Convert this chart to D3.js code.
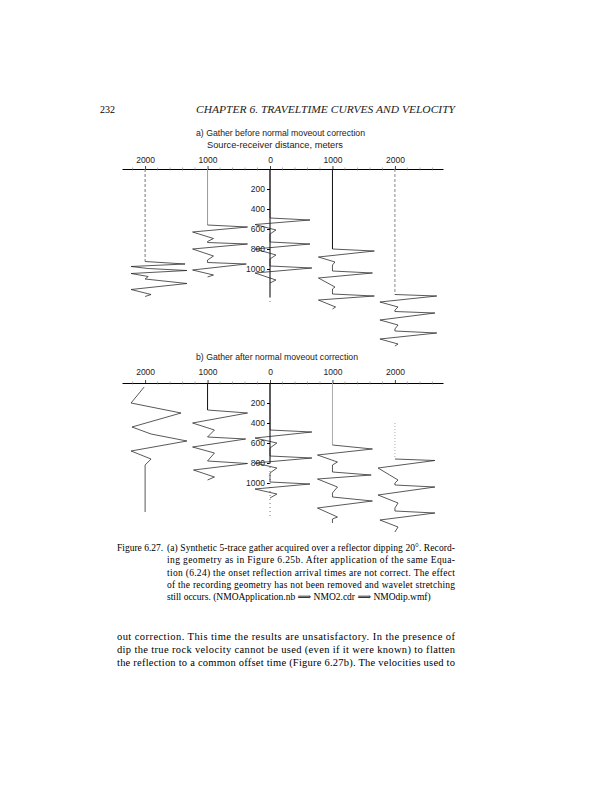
<!DOCTYPE html>
<html>
<head>
<meta charset="utf-8">
<script src="https://cdn.jsdelivr.net/npm/d3@7"></script>
<style>
  body { margin: 0; background: #fff; }
  svg { display: block; }
</style>
</head>
<body>
<div id="page"></div>
<script>
// trace positions (source-receiver distance, m) and axis ticks
const traceOffsets = [-2000, -1000, 0, 1000, 2000];
const distanceTicks = [-2000, -1000, 0, 1000, 2000];
const timeTicks = [200, 400, 600, 800, 1000];

// wiggle vertices: [time ms, trace deflection m]
// a) before NMO correction
const gatherA_m2000 = [[0,0],[925,0],[950,640],[975,-225],[995,50],[1015,670],[1045,-225],[1075,50],[1100,0],[1145,670],[1205,-225],[1255,95],[1275,0]];
const gatherA_m1000 = [[0,0],[560,0],[580,640],[630,-240],[695,95],[725,0],[735,0],[750,640],[800,-240],[870,95],[910,0],[935,0],[950,620],[1010,-240],[1060,95],[1080,0]];
const gatherA_0 = [[0,0],[490,0],[510,640],[555,-240],[610,95],[650,0],[730,0],[750,640],[800,-240],[860,95],[900,0],[970,0],[990,670],[1040,-240],[1110,95],[1140,0]];
const gatherA_p1000 = [[0,0],[800,0],[820,670],[880,-225],[930,40],[960,0],[1020,0],[1040,640],[1090,-225],[1180,40],[1200,0],[1250,0],[1270,670],[1310,-225],[1380,50],[1400,0]];
const gatherA_p2000 = [[0,0],[1255,0],[1270,670],[1330,-240],[1380,50],[1410,0],[1425,0],[1440,640],[1510,-240],[1560,50],[1600,0],[1620,0],[1640,670],[1700,-240],[1750,50],[1770,0]];

// b) after NMO correction
const gatherB_m2000 = [[40,-15],[200,-225],[300,575],[440,-210],[510,95],[580,670],[680,-225],[760,95],[820,0],[1290,0]];
const gatherB_m1000 = [[0,0],[270,0],[300,640],[400,-240],[470,110],[540,0],[560,610],[640,-240],[700,110],[780,0],[805,640],[870,-225],[940,110],[970,0]];
const gatherB_0 = [[0,0],[470,0],[490,670],[550,-240],[600,110],[650,0],[730,0],[750,670],[800,-240],[850,110],[900,0],[990,0],[1010,640],[1060,-240],[1110,110],[1150,0]];
const gatherB_p1000 = [[0,0],[620,0],[660,640],[720,-240],[790,80],[820,0],[890,0],[920,620],[960,-240],[1040,80],[1100,0],[1140,0],[1180,640],[1250,-240],[1340,80],[1360,0],[1400,0]];
const gatherB_p2000 = [[400,0],[760,0],[775,640],[850,-270],[970,50],[1000,0],[1020,0],[1040,640],[1120,-270],[1200,50],[1250,0],[1280,0],[1300,640],[1370,-240],[1440,50],[1490,0]];

const gatherA = [gatherA_m2000, gatherA_m1000, gatherA_0, gatherA_p1000, gatherA_p2000];
const gatherB = [gatherB_m2000, gatherB_m1000, gatherB_0, gatherB_p1000, gatherB_p2000];

// page text
const pageNumber = "232";
const runningHead = "CHAPTER 6.  TRAVELTIME CURVES AND VELOCITY";
const titleA = "a) Gather before normal moveout correction";
const xAxisTitle = "Source-receiver distance, meters";
const titleB = "b) Gather after normal moveout correction";
const captionLabel = "Figure 6.27.";
const captionLines = [
  "(a) Synthetic 5-trace gather acquired over a reflector dipping 20°. Record-",
  "ing geometry as in Figure 6.25b. After application of the same Equa-",
  "tion (6.24) the onset reflection arrival times are not correct. The effect",
  "of the recording geometry has not been removed and wavelet stretching",
  "still occurs. (NMOApplication.nb \u27F9 NMO2.cdr \u27F9 NMOdip.wmf)"
];
const bodyLines = [
  "out correction.  This time the results are unsatisfactory.  In the presence of",
  "dip the true rock velocity cannot be used (even if it were known) to flatten",
  "the reflection to a common offset time (Figure 6.27b).  The velocities used to"
];

const width = 612, height = 800;
const svg = d3.select("#page").append("svg")
  .attr("width", width)
  .attr("height", height);

svg.append("rect").attr("width", width).attr("height", height).attr("fill", "#fff");

const serif = "'Liberation Serif', 'DejaVu Serif', serif";
const sans = "'Liberation Sans', Arial, sans-serif";

// running head
svg.append("text")
  .attr("x", 100).attr("y", 113)
  .style("font-family", serif).style("font-size", "10px")
  .text(pageNumber);
svg.append("text")
  .attr("x", 196).attr("y", 113)
  .attr("textLength", 259).attr("lengthAdjust", "spacingAndGlyphs")
  .style("font-family", serif).style("font-size", "9.5px").style("font-style", "italic")
  .attr("fill", "#222")
  .text(runningHead);

// how the quiet (pre-onset) part of each trace looks in the scan
const quietStyleA = [
  { stroke: "#777", dash: "3,2" }, { stroke: "#999", dash: null }, null,
  { stroke: "#111", dash: null }, { stroke: "#888", dash: "3,2" }
];
const quietStyleB = [
  null, { stroke: "#111", dash: null }, null,
  { stroke: "#aaa", dash: null }, { stroke: "#aaa", dash: "1,2" }
];

function drawGather(cfg) {
  const x = d3.scaleLinear().domain([-2370, 2770]).range([122, 443]);
  const y = d3.scaleLinear().domain([0, 1000]).range([cfg.top, cfg.top + 100]);
  const g = svg.append("g");

  // title(s)
  cfg.titles.forEach(t => {
    g.append("text")
      .attr("x", t.x).attr("y", t.y)
      .attr("textLength", t.len).attr("lengthAdjust", "spacingAndGlyphs")
      .style("font-family", sans).style("font-size", "8.5px").attr("fill", "#222")
      .text(t.text);
  });

  // horizontal distance axis (labels above)
  const xAxis = g.append("g")
    .attr("transform", `translate(0,${cfg.top})`)
    .call(d3.axisTop(x).tickValues(distanceTicks).tickSize(3).tickPadding(cfg.labelGap)
      .tickSizeOuter(0).tickFormat(d => String(Math.abs(d))));
  xAxis.select(".domain").attr("stroke", "#000");
  xAxis.selectAll(".tick line").attr("stroke", "#444");
  xAxis.selectAll("text").style("font-family", sans).style("font-size", "8.5px").attr("fill", "#222");

  // minor ticks
  g.append("g")
    .selectAll("line")
    .data(x.ticks(25).filter(d => d % 1000 !== 0))
    .join("line")
    .attr("x1", d => x(d)).attr("x2", d => x(d))
    .attr("y1", cfg.top - 1.5).attr("y2", cfg.top + 1.5)
    .attr("stroke", "#777").attr("stroke-width", 0.6);

  // vertical time axis at zero offset
  const yAxis = g.append("g")
    .attr("transform", `translate(${x(0)},0)`)
    .call(d3.axisLeft(y).tickValues(timeTicks).tickSize(3).tickPadding(2).tickSizeOuter(0)
      .tickFormat(d => String(d)));
  yAxis.select(".domain").remove();
  yAxis.selectAll("text").style("font-family", sans).style("font-size", "8.5px").attr("fill", "#222");
  yAxis.selectAll("line").attr("stroke", "#000");

  g.append("line")
    .attr("x1", x(0)).attr("x2", x(0))
    .attr("y1", y(0)).attr("y2", y(cfg.axisSolidEnd))
    .attr("stroke", "#000").attr("stroke-width", 1);
  g.append("line")
    .attr("x1", x(0)).attr("x2", x(0))
    .attr("y1", y(cfg.axisSolidEnd)).attr("y2", y(cfg.axisEnd))
    .attr("stroke", "#777").attr("stroke-width", 1)
    .attr("stroke-dasharray", "1,3");

  // wiggle traces
  cfg.traces.forEach((trace, i) => {
    const off = traceOffsets[i];
    const line = d3.line()
      .x(d => x(off + d[1]))
      .y(d => y(d[0]));
    const qs = cfg.quiet[i];
    let pts = trace;
    if (qs && trace[1][1] === 0) {
      // quiet baseline drawn on its own, lighter
      g.append("path")
        .datum(trace.slice(0, 2))
        .attr("fill", "none")
        .attr("stroke", qs.stroke)
        .attr("stroke-width", 1)
        .attr("stroke-dasharray", qs.dash)
        .attr("d", line);
      pts = trace.slice(1);
    }
    g.append("path")
      .datum(pts)
      .attr("fill", "none")
      .attr("stroke", "#222")
      .attr("stroke-width", 0.75)
      .attr("stroke-linejoin", "round")
      .attr("d", line);
  });
}

drawGather({
  top: 169,
  labelGap: 3,
  axisSolidEnd: 1280,
  axisEnd: 1360,
  traces: gatherA,
  quiet: quietStyleA,
  titles: [
    { text: titleA, x: 196, y: 136, len: 169 },
    { text: xAxisTitle, x: 207, y: 148, len: 136 }
  ]
});

drawGather({
  top: 383,
  labelGap: 5,
  axisSolidEnd: 800,
  axisEnd: 1340,
  traces: gatherB,
  quiet: quietStyleB,
  titles: [
    { text: titleB, x: 196, y: 360, len: 162 }
  ]
});

// caption
svg.append("text")
  .attr("x", 117).attr("y", 551)
  .style("font-family", serif).style("font-size", "9.5px")
  .text(captionLabel);
captionLines.forEach((t, i) => {
  const last = i === captionLines.length - 1;
  const txt = svg.append("text")
    .attr("x", 167).attr("y", 551 + i * 12.3)
    .style("font-family", serif).style("font-size", "9.5px")
    .text(t);
  if (!last) txt.attr("textLength", 288).attr("lengthAdjust", "spacing");
});

// body text
bodyLines.forEach((t, i) => {
  svg.append("text")
    .attr("x", 117).attr("y", 640 + i * 13)
    .attr("textLength", 338).attr("lengthAdjust", "spacing")
    .style("font-family", serif).style("font-size", "10.5px")
    .text(t);
});
</script>
</body>
</html>
